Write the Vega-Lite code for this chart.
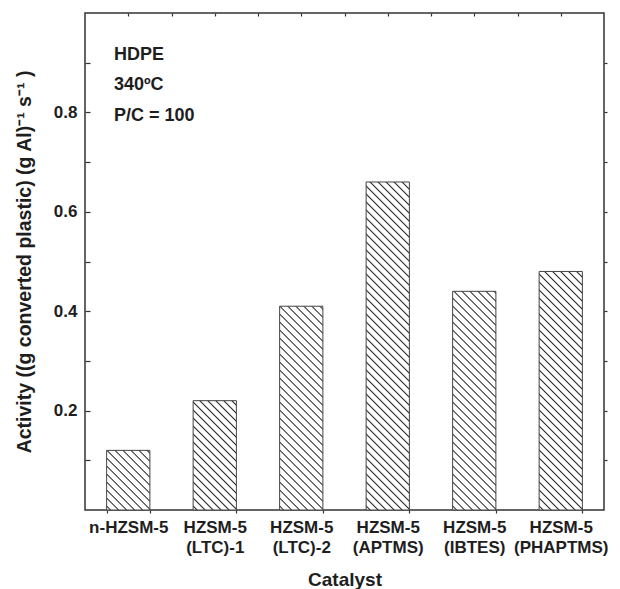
{
  "$schema": "https://vega.github.io/schema/vega-lite/v6.json",
  "width": 519,
  "height": 497,
  "autosize": "none",
  "padding": {"left": 85, "top": 13, "right": 16, "bottom": 79},
  "background": "white",
  "config": {
    "font": "Liberation Sans",
    "view": {"stroke": "#333333", "strokeWidth": 1.5},
    "axis": {
      "domain": false,
      "grid": false,
      "labelFont": "Liberation Sans",
      "labelFontWeight": "bold",
      "labelFontSize": 17,
      "labelColor": "#1e1e1e",
      "titleFont": "Liberation Sans",
      "titleFontWeight": "bold",
      "titleFontSize": 19,
      "titleColor": "#1e1e1e",
      "tickColor": "#333333",
      "tickWidth": 1.2
    }
  },
  "data": {
    "values": [
      {"catalyst": "n-HZSM-5", "activity": 0.12},
      {"catalyst": "HZSM-5 (LTC)-1", "activity": 0.22},
      {"catalyst": "HZSM-5 (LTC)-2", "activity": 0.41},
      {"catalyst": "HZSM-5 (APTMS)", "activity": 0.66},
      {"catalyst": "HZSM-5 (IBTES)", "activity": 0.44},
      {"catalyst": "HZSM-5 (PHAPTMS)", "activity": 0.48}
    ]
  },
  "layer": [
    {
      "mark": {"type": "bar", "stroke": "#444444", "strokeWidth": 1},
      "encoding": {
        "x": {
          "field": "catalyst",
          "type": "nominal",
          "sort": null,
          "scale": {"paddingInner": 0.5, "paddingOuter": 0.25},
          "axis": {
            "orient": "bottom",
            "title": "Catalyst",
            "labelAngle": 0,
            "labelExpr": "split(datum.label, ' ')",
            "labelLineHeight": 20,
            "labelPadding": 6,
            "tickBand": "extent",
            "tickSize": 3,
            "titlePadding": 15
          }
        },
        "y": {
          "field": "activity",
          "type": "quantitative",
          "scale": {"domain": [0, 1], "nice": false},
          "axis": {
            "orient": "left",
            "title": "Activity ((g converted plastic) (g Al)⁻¹  s⁻¹ )",
            "titleFontSize": 19.5,
            "values": [0.1, 0.2, 0.3, 0.4, 0.5, 0.6, 0.7, 0.8, 0.9],
            "format": ".1f",
            "labelExpr": "round(datum.value * 10) % 2 == 0 ? datum.label : ''",
            "tickSize": -5,
            "labelPadding": 13,
            "titlePadding": 19
          }
        },
        "fill": {
          "condition": [
            {
              "test": "datum.catalyst === 'n-HZSM-5'",
              "value": {
                "gradient": "linear", "x1": 0, "y1": 1, "x2": 0.8199, "y2": -0.1306,
                "stops": [
                  {"offset": 0.0252, "color": "#fff"}, {"offset": 0.0389, "color": "#222"}, {"offset": 0.0526, "color": "#fff"},
                  {"offset": 0.1029, "color": "#fff"}, {"offset": 0.1166, "color": "#222"}, {"offset": 0.1303, "color": "#fff"},
                  {"offset": 0.1807, "color": "#fff"}, {"offset": 0.1944, "color": "#222"}, {"offset": 0.2081, "color": "#fff"},
                  {"offset": 0.2584, "color": "#fff"}, {"offset": 0.2721, "color": "#222"}, {"offset": 0.2858, "color": "#fff"},
                  {"offset": 0.3362, "color": "#fff"}, {"offset": 0.3499, "color": "#222"}, {"offset": 0.3636, "color": "#fff"},
                  {"offset": 0.4139, "color": "#fff"}, {"offset": 0.4276, "color": "#222"}, {"offset": 0.4413, "color": "#fff"},
                  {"offset": 0.4917, "color": "#fff"}, {"offset": 0.5054, "color": "#222"}, {"offset": 0.5191, "color": "#fff"},
                  {"offset": 0.5694, "color": "#fff"}, {"offset": 0.5831, "color": "#222"}, {"offset": 0.5968, "color": "#fff"},
                  {"offset": 0.6472, "color": "#fff"}, {"offset": 0.6609, "color": "#222"}, {"offset": 0.6746, "color": "#fff"},
                  {"offset": 0.7249, "color": "#fff"}, {"offset": 0.7386, "color": "#222"}, {"offset": 0.7523, "color": "#fff"},
                  {"offset": 0.8027, "color": "#fff"}, {"offset": 0.8164, "color": "#222"}, {"offset": 0.8301, "color": "#fff"},
                  {"offset": 0.8804, "color": "#fff"}, {"offset": 0.8941, "color": "#222"}, {"offset": 0.9078, "color": "#fff"},
                  {"offset": 0.9582, "color": "#fff"}, {"offset": 0.9719, "color": "#222"}, {"offset": 0.9856, "color": "#fff"}
                ]
              }
            },
            {
              "test": "datum.catalyst === 'HZSM-5 (LTC)-1'",
              "value": {
                "gradient": "linear", "x1": 0, "y1": 1, "x2": 0.4773, "y2": -0.2066,
                "stops": [
                  {"offset": 0.0169, "color": "#fff"}, {"offset": 0.0262, "color": "#222"}, {"offset": 0.0355, "color": "#fff"},
                  {"offset": 0.0693, "color": "#fff"}, {"offset": 0.0786, "color": "#222"}, {"offset": 0.0879, "color": "#fff"},
                  {"offset": 0.1218, "color": "#fff"}, {"offset": 0.1311, "color": "#222"}, {"offset": 0.1404, "color": "#fff"},
                  {"offset": 0.1742, "color": "#fff"}, {"offset": 0.1835, "color": "#222"}, {"offset": 0.1928, "color": "#fff"},
                  {"offset": 0.2266, "color": "#fff"}, {"offset": 0.2359, "color": "#222"}, {"offset": 0.2452, "color": "#fff"},
                  {"offset": 0.2791, "color": "#fff"}, {"offset": 0.2884, "color": "#222"}, {"offset": 0.2977, "color": "#fff"},
                  {"offset": 0.3315, "color": "#fff"}, {"offset": 0.3408, "color": "#222"}, {"offset": 0.3501, "color": "#fff"},
                  {"offset": 0.3839, "color": "#fff"}, {"offset": 0.3932, "color": "#222"}, {"offset": 0.4025, "color": "#fff"},
                  {"offset": 0.4363, "color": "#fff"}, {"offset": 0.4456, "color": "#222"}, {"offset": 0.4549, "color": "#fff"},
                  {"offset": 0.4888, "color": "#fff"}, {"offset": 0.4981, "color": "#222"}, {"offset": 0.5074, "color": "#fff"},
                  {"offset": 0.5412, "color": "#fff"}, {"offset": 0.5505, "color": "#222"}, {"offset": 0.5598, "color": "#fff"},
                  {"offset": 0.5936, "color": "#fff"}, {"offset": 0.6029, "color": "#222"}, {"offset": 0.6122, "color": "#fff"},
                  {"offset": 0.6461, "color": "#fff"}, {"offset": 0.6554, "color": "#222"}, {"offset": 0.6647, "color": "#fff"},
                  {"offset": 0.6985, "color": "#fff"}, {"offset": 0.7078, "color": "#222"}, {"offset": 0.7171, "color": "#fff"},
                  {"offset": 0.7509, "color": "#fff"}, {"offset": 0.7602, "color": "#222"}, {"offset": 0.7695, "color": "#fff"},
                  {"offset": 0.8033, "color": "#fff"}, {"offset": 0.8126, "color": "#222"}, {"offset": 0.8219, "color": "#fff"},
                  {"offset": 0.8558, "color": "#fff"}, {"offset": 0.8651, "color": "#222"}, {"offset": 0.8744, "color": "#fff"},
                  {"offset": 0.9082, "color": "#fff"}, {"offset": 0.9175, "color": "#222"}, {"offset": 0.9268, "color": "#fff"},
                  {"offset": 0.9606, "color": "#fff"}, {"offset": 0.9699, "color": "#222"}, {"offset": 0.9792, "color": "#fff"}
                ]
              }
            },
            {
              "test": "datum.catalyst === 'HZSM-5 (LTC)-2'",
              "value": {
                "gradient": "linear", "x1": 0, "y1": 1, "x2": 0.2462, "y2": -0.16,
                "stops": [
                  {"offset": 0.0105, "color": "#fff"}, {"offset": 0.0162, "color": "#222"}, {"offset": 0.0219, "color": "#fff"},
                  {"offset": 0.0429, "color": "#fff"}, {"offset": 0.0486, "color": "#222"}, {"offset": 0.0543, "color": "#fff"},
                  {"offset": 0.0753, "color": "#fff"}, {"offset": 0.0810, "color": "#222"}, {"offset": 0.0867, "color": "#fff"},
                  {"offset": 0.1077, "color": "#fff"}, {"offset": 0.1134, "color": "#222"}, {"offset": 0.1191, "color": "#fff"},
                  {"offset": 0.1400, "color": "#fff"}, {"offset": 0.1457, "color": "#222"}, {"offset": 0.1514, "color": "#fff"},
                  {"offset": 0.1724, "color": "#fff"}, {"offset": 0.1781, "color": "#222"}, {"offset": 0.1838, "color": "#fff"},
                  {"offset": 0.2048, "color": "#fff"}, {"offset": 0.2105, "color": "#222"}, {"offset": 0.2162, "color": "#fff"},
                  {"offset": 0.2372, "color": "#fff"}, {"offset": 0.2429, "color": "#222"}, {"offset": 0.2486, "color": "#fff"},
                  {"offset": 0.2696, "color": "#fff"}, {"offset": 0.2753, "color": "#222"}, {"offset": 0.2810, "color": "#fff"},
                  {"offset": 0.3020, "color": "#fff"}, {"offset": 0.3077, "color": "#222"}, {"offset": 0.3134, "color": "#fff"},
                  {"offset": 0.3344, "color": "#fff"}, {"offset": 0.3401, "color": "#222"}, {"offset": 0.3458, "color": "#fff"},
                  {"offset": 0.3667, "color": "#fff"}, {"offset": 0.3724, "color": "#222"}, {"offset": 0.3781, "color": "#fff"},
                  {"offset": 0.3991, "color": "#fff"}, {"offset": 0.4048, "color": "#222"}, {"offset": 0.4105, "color": "#fff"},
                  {"offset": 0.4315, "color": "#fff"}, {"offset": 0.4372, "color": "#222"}, {"offset": 0.4429, "color": "#fff"},
                  {"offset": 0.4639, "color": "#fff"}, {"offset": 0.4696, "color": "#222"}, {"offset": 0.4753, "color": "#fff"},
                  {"offset": 0.4963, "color": "#fff"}, {"offset": 0.5020, "color": "#222"}, {"offset": 0.5077, "color": "#fff"},
                  {"offset": 0.5287, "color": "#fff"}, {"offset": 0.5344, "color": "#222"}, {"offset": 0.5401, "color": "#fff"},
                  {"offset": 0.5611, "color": "#fff"}, {"offset": 0.5668, "color": "#222"}, {"offset": 0.5725, "color": "#fff"},
                  {"offset": 0.5934, "color": "#fff"}, {"offset": 0.5991, "color": "#222"}, {"offset": 0.6048, "color": "#fff"},
                  {"offset": 0.6258, "color": "#fff"}, {"offset": 0.6315, "color": "#222"}, {"offset": 0.6372, "color": "#fff"},
                  {"offset": 0.6582, "color": "#fff"}, {"offset": 0.6639, "color": "#222"}, {"offset": 0.6696, "color": "#fff"},
                  {"offset": 0.6906, "color": "#fff"}, {"offset": 0.6963, "color": "#222"}, {"offset": 0.7020, "color": "#fff"},
                  {"offset": 0.7230, "color": "#fff"}, {"offset": 0.7287, "color": "#222"}, {"offset": 0.7344, "color": "#fff"},
                  {"offset": 0.7554, "color": "#fff"}, {"offset": 0.7611, "color": "#222"}, {"offset": 0.7668, "color": "#fff"},
                  {"offset": 0.7878, "color": "#fff"}, {"offset": 0.7935, "color": "#222"}, {"offset": 0.7992, "color": "#fff"},
                  {"offset": 0.8201, "color": "#fff"}, {"offset": 0.8258, "color": "#222"}, {"offset": 0.8315, "color": "#fff"},
                  {"offset": 0.8525, "color": "#fff"}, {"offset": 0.8582, "color": "#222"}, {"offset": 0.8639, "color": "#fff"},
                  {"offset": 0.8849, "color": "#fff"}, {"offset": 0.8906, "color": "#222"}, {"offset": 0.8963, "color": "#fff"},
                  {"offset": 0.9173, "color": "#fff"}, {"offset": 0.9230, "color": "#222"}, {"offset": 0.9287, "color": "#fff"},
                  {"offset": 0.9497, "color": "#fff"}, {"offset": 0.9554, "color": "#222"}, {"offset": 0.9611, "color": "#fff"},
                  {"offset": 0.9821, "color": "#fff"}, {"offset": 0.9878, "color": "#222"}, {"offset": 0.9935, "color": "#fff"}
                ]
              }
            },
            {
              "test": "datum.catalyst === 'HZSM-5 (APTMS)'",
              "value": {
                "gradient": "linear", "x1": 0, "y1": 1, "x2": 0.1467, "y2": -0.1125,
                "stops": [
                  {"offset": 0.0070, "color": "#fff"}, {"offset": 0.0108, "color": "#222"}, {"offset": 0.0146, "color": "#fff"},
                  {"offset": 0.0285, "color": "#fff"}, {"offset": 0.0323, "color": "#222"}, {"offset": 0.0361, "color": "#fff"},
                  {"offset": 0.0501, "color": "#fff"}, {"offset": 0.0539, "color": "#222"}, {"offset": 0.0577, "color": "#fff"},
                  {"offset": 0.0716, "color": "#fff"}, {"offset": 0.0754, "color": "#222"}, {"offset": 0.0792, "color": "#fff"},
                  {"offset": 0.0932, "color": "#fff"}, {"offset": 0.0970, "color": "#222"}, {"offset": 0.1008, "color": "#fff"},
                  {"offset": 0.1147, "color": "#fff"}, {"offset": 0.1185, "color": "#222"}, {"offset": 0.1223, "color": "#fff"},
                  {"offset": 0.1363, "color": "#fff"}, {"offset": 0.1401, "color": "#222"}, {"offset": 0.1439, "color": "#fff"},
                  {"offset": 0.1578, "color": "#fff"}, {"offset": 0.1616, "color": "#222"}, {"offset": 0.1654, "color": "#fff"},
                  {"offset": 0.1794, "color": "#fff"}, {"offset": 0.1832, "color": "#222"}, {"offset": 0.1870, "color": "#fff"},
                  {"offset": 0.2009, "color": "#fff"}, {"offset": 0.2047, "color": "#222"}, {"offset": 0.2085, "color": "#fff"},
                  {"offset": 0.2225, "color": "#fff"}, {"offset": 0.2263, "color": "#222"}, {"offset": 0.2301, "color": "#fff"},
                  {"offset": 0.2440, "color": "#fff"}, {"offset": 0.2478, "color": "#222"}, {"offset": 0.2516, "color": "#fff"},
                  {"offset": 0.2656, "color": "#fff"}, {"offset": 0.2694, "color": "#222"}, {"offset": 0.2732, "color": "#fff"},
                  {"offset": 0.2871, "color": "#fff"}, {"offset": 0.2909, "color": "#222"}, {"offset": 0.2947, "color": "#fff"},
                  {"offset": 0.3086, "color": "#fff"}, {"offset": 0.3124, "color": "#222"}, {"offset": 0.3162, "color": "#fff"},
                  {"offset": 0.3302, "color": "#fff"}, {"offset": 0.3340, "color": "#222"}, {"offset": 0.3378, "color": "#fff"},
                  {"offset": 0.3517, "color": "#fff"}, {"offset": 0.3555, "color": "#222"}, {"offset": 0.3593, "color": "#fff"},
                  {"offset": 0.3733, "color": "#fff"}, {"offset": 0.3771, "color": "#222"}, {"offset": 0.3809, "color": "#fff"},
                  {"offset": 0.3948, "color": "#fff"}, {"offset": 0.3986, "color": "#222"}, {"offset": 0.4024, "color": "#fff"},
                  {"offset": 0.4164, "color": "#fff"}, {"offset": 0.4202, "color": "#222"}, {"offset": 0.4240, "color": "#fff"},
                  {"offset": 0.4379, "color": "#fff"}, {"offset": 0.4417, "color": "#222"}, {"offset": 0.4455, "color": "#fff"},
                  {"offset": 0.4595, "color": "#fff"}, {"offset": 0.4633, "color": "#222"}, {"offset": 0.4671, "color": "#fff"},
                  {"offset": 0.4810, "color": "#fff"}, {"offset": 0.4848, "color": "#222"}, {"offset": 0.4886, "color": "#fff"},
                  {"offset": 0.5026, "color": "#fff"}, {"offset": 0.5064, "color": "#222"}, {"offset": 0.5102, "color": "#fff"},
                  {"offset": 0.5241, "color": "#fff"}, {"offset": 0.5279, "color": "#222"}, {"offset": 0.5317, "color": "#fff"},
                  {"offset": 0.5457, "color": "#fff"}, {"offset": 0.5495, "color": "#222"}, {"offset": 0.5533, "color": "#fff"},
                  {"offset": 0.5672, "color": "#fff"}, {"offset": 0.5710, "color": "#222"}, {"offset": 0.5748, "color": "#fff"},
                  {"offset": 0.5888, "color": "#fff"}, {"offset": 0.5926, "color": "#222"}, {"offset": 0.5964, "color": "#fff"},
                  {"offset": 0.6103, "color": "#fff"}, {"offset": 0.6141, "color": "#222"}, {"offset": 0.6179, "color": "#fff"},
                  {"offset": 0.6319, "color": "#fff"}, {"offset": 0.6357, "color": "#222"}, {"offset": 0.6395, "color": "#fff"},
                  {"offset": 0.6534, "color": "#fff"}, {"offset": 0.6572, "color": "#222"}, {"offset": 0.6610, "color": "#fff"},
                  {"offset": 0.6750, "color": "#fff"}, {"offset": 0.6788, "color": "#222"}, {"offset": 0.6826, "color": "#fff"},
                  {"offset": 0.6965, "color": "#fff"}, {"offset": 0.7003, "color": "#222"}, {"offset": 0.7041, "color": "#fff"},
                  {"offset": 0.7181, "color": "#fff"}, {"offset": 0.7219, "color": "#222"}, {"offset": 0.7257, "color": "#fff"},
                  {"offset": 0.7396, "color": "#fff"}, {"offset": 0.7434, "color": "#222"}, {"offset": 0.7472, "color": "#fff"},
                  {"offset": 0.7612, "color": "#fff"}, {"offset": 0.7650, "color": "#222"}, {"offset": 0.7688, "color": "#fff"},
                  {"offset": 0.7827, "color": "#fff"}, {"offset": 0.7865, "color": "#222"}, {"offset": 0.7903, "color": "#fff"},
                  {"offset": 0.8043, "color": "#fff"}, {"offset": 0.8081, "color": "#222"}, {"offset": 0.8119, "color": "#fff"},
                  {"offset": 0.8258, "color": "#fff"}, {"offset": 0.8296, "color": "#222"}, {"offset": 0.8334, "color": "#fff"},
                  {"offset": 0.8473, "color": "#fff"}, {"offset": 0.8511, "color": "#222"}, {"offset": 0.8549, "color": "#fff"},
                  {"offset": 0.8689, "color": "#fff"}, {"offset": 0.8727, "color": "#222"}, {"offset": 0.8765, "color": "#fff"},
                  {"offset": 0.8904, "color": "#fff"}, {"offset": 0.8942, "color": "#222"}, {"offset": 0.8980, "color": "#fff"},
                  {"offset": 0.9120, "color": "#fff"}, {"offset": 0.9158, "color": "#222"}, {"offset": 0.9196, "color": "#fff"},
                  {"offset": 0.9335, "color": "#fff"}, {"offset": 0.9373, "color": "#222"}, {"offset": 0.9411, "color": "#fff"},
                  {"offset": 0.9551, "color": "#fff"}, {"offset": 0.9589, "color": "#222"}, {"offset": 0.9627, "color": "#fff"},
                  {"offset": 0.9766, "color": "#fff"}, {"offset": 0.9804, "color": "#222"}, {"offset": 0.9842, "color": "#fff"}
                ]
              }
            },
            {
              "test": "datum.catalyst === 'HZSM-5 (IBTES)'",
              "value": {
                "gradient": "linear", "x1": 0, "y1": 1, "x2": 0.228, "y2": -0.1527,
                "stops": [
                  {"offset": 0.0099, "color": "#fff"}, {"offset": 0.0153, "color": "#222"}, {"offset": 0.0207, "color": "#fff"},
                  {"offset": 0.0404, "color": "#fff"}, {"offset": 0.0458, "color": "#222"}, {"offset": 0.0512, "color": "#fff"},
                  {"offset": 0.0710, "color": "#fff"}, {"offset": 0.0764, "color": "#222"}, {"offset": 0.0818, "color": "#fff"},
                  {"offset": 0.1015, "color": "#fff"}, {"offset": 0.1069, "color": "#222"}, {"offset": 0.1123, "color": "#fff"},
                  {"offset": 0.1320, "color": "#fff"}, {"offset": 0.1374, "color": "#222"}, {"offset": 0.1428, "color": "#fff"},
                  {"offset": 0.1626, "color": "#fff"}, {"offset": 0.1680, "color": "#222"}, {"offset": 0.1734, "color": "#fff"},
                  {"offset": 0.1931, "color": "#fff"}, {"offset": 0.1985, "color": "#222"}, {"offset": 0.2039, "color": "#fff"},
                  {"offset": 0.2237, "color": "#fff"}, {"offset": 0.2291, "color": "#222"}, {"offset": 0.2345, "color": "#fff"},
                  {"offset": 0.2542, "color": "#fff"}, {"offset": 0.2596, "color": "#222"}, {"offset": 0.2650, "color": "#fff"},
                  {"offset": 0.2848, "color": "#fff"}, {"offset": 0.2902, "color": "#222"}, {"offset": 0.2956, "color": "#fff"},
                  {"offset": 0.3153, "color": "#fff"}, {"offset": 0.3207, "color": "#222"}, {"offset": 0.3261, "color": "#fff"},
                  {"offset": 0.3458, "color": "#fff"}, {"offset": 0.3512, "color": "#222"}, {"offset": 0.3566, "color": "#fff"},
                  {"offset": 0.3764, "color": "#fff"}, {"offset": 0.3818, "color": "#222"}, {"offset": 0.3872, "color": "#fff"},
                  {"offset": 0.4069, "color": "#fff"}, {"offset": 0.4123, "color": "#222"}, {"offset": 0.4177, "color": "#fff"},
                  {"offset": 0.4375, "color": "#fff"}, {"offset": 0.4429, "color": "#222"}, {"offset": 0.4483, "color": "#fff"},
                  {"offset": 0.4680, "color": "#fff"}, {"offset": 0.4734, "color": "#222"}, {"offset": 0.4788, "color": "#fff"},
                  {"offset": 0.4986, "color": "#fff"}, {"offset": 0.5040, "color": "#222"}, {"offset": 0.5094, "color": "#fff"},
                  {"offset": 0.5291, "color": "#fff"}, {"offset": 0.5345, "color": "#222"}, {"offset": 0.5399, "color": "#fff"},
                  {"offset": 0.5597, "color": "#fff"}, {"offset": 0.5651, "color": "#222"}, {"offset": 0.5705, "color": "#fff"},
                  {"offset": 0.5902, "color": "#fff"}, {"offset": 0.5956, "color": "#222"}, {"offset": 0.6010, "color": "#fff"},
                  {"offset": 0.6207, "color": "#fff"}, {"offset": 0.6261, "color": "#222"}, {"offset": 0.6315, "color": "#fff"},
                  {"offset": 0.6513, "color": "#fff"}, {"offset": 0.6567, "color": "#222"}, {"offset": 0.6621, "color": "#fff"},
                  {"offset": 0.6818, "color": "#fff"}, {"offset": 0.6872, "color": "#222"}, {"offset": 0.6926, "color": "#fff"},
                  {"offset": 0.7124, "color": "#fff"}, {"offset": 0.7178, "color": "#222"}, {"offset": 0.7232, "color": "#fff"},
                  {"offset": 0.7429, "color": "#fff"}, {"offset": 0.7483, "color": "#222"}, {"offset": 0.7537, "color": "#fff"},
                  {"offset": 0.7735, "color": "#fff"}, {"offset": 0.7789, "color": "#222"}, {"offset": 0.7843, "color": "#fff"},
                  {"offset": 0.8040, "color": "#fff"}, {"offset": 0.8094, "color": "#222"}, {"offset": 0.8148, "color": "#fff"},
                  {"offset": 0.8345, "color": "#fff"}, {"offset": 0.8399, "color": "#222"}, {"offset": 0.8453, "color": "#fff"},
                  {"offset": 0.8651, "color": "#fff"}, {"offset": 0.8705, "color": "#222"}, {"offset": 0.8759, "color": "#fff"},
                  {"offset": 0.8956, "color": "#fff"}, {"offset": 0.9010, "color": "#222"}, {"offset": 0.9064, "color": "#fff"},
                  {"offset": 0.9262, "color": "#fff"}, {"offset": 0.9316, "color": "#222"}, {"offset": 0.9370, "color": "#fff"},
                  {"offset": 0.9567, "color": "#fff"}, {"offset": 0.9621, "color": "#222"}, {"offset": 0.9675, "color": "#fff"},
                  {"offset": 0.9873, "color": "#fff"}, {"offset": 0.9927, "color": "#222"}, {"offset": 0.9981, "color": "#fff"}
                ]
              }
            },
            {
              "test": "datum.catalyst === 'HZSM-5 (PHAPTMS)'",
              "value": {
                "gradient": "linear", "x1": 0, "y1": 1, "x2": 0.2074, "y2": -0.1437,
                "stops": [
                  {"offset": 0.0092, "color": "#fff"}, {"offset": 0.0142, "color": "#222"}, {"offset": 0.0192, "color": "#fff"},
                  {"offset": 0.0376, "color": "#fff"}, {"offset": 0.0426, "color": "#222"}, {"offset": 0.0476, "color": "#fff"},
                  {"offset": 0.0660, "color": "#fff"}, {"offset": 0.0710, "color": "#222"}, {"offset": 0.0760, "color": "#fff"},
                  {"offset": 0.0944, "color": "#fff"}, {"offset": 0.0994, "color": "#222"}, {"offset": 0.1044, "color": "#fff"},
                  {"offset": 0.1227, "color": "#fff"}, {"offset": 0.1277, "color": "#222"}, {"offset": 0.1327, "color": "#fff"},
                  {"offset": 0.1511, "color": "#fff"}, {"offset": 0.1561, "color": "#222"}, {"offset": 0.1611, "color": "#fff"},
                  {"offset": 0.1795, "color": "#fff"}, {"offset": 0.1845, "color": "#222"}, {"offset": 0.1895, "color": "#fff"},
                  {"offset": 0.2079, "color": "#fff"}, {"offset": 0.2129, "color": "#222"}, {"offset": 0.2179, "color": "#fff"},
                  {"offset": 0.2363, "color": "#fff"}, {"offset": 0.2413, "color": "#222"}, {"offset": 0.2463, "color": "#fff"},
                  {"offset": 0.2647, "color": "#fff"}, {"offset": 0.2697, "color": "#222"}, {"offset": 0.2747, "color": "#fff"},
                  {"offset": 0.2931, "color": "#fff"}, {"offset": 0.2981, "color": "#222"}, {"offset": 0.3031, "color": "#fff"},
                  {"offset": 0.3215, "color": "#fff"}, {"offset": 0.3265, "color": "#222"}, {"offset": 0.3315, "color": "#fff"},
                  {"offset": 0.3499, "color": "#fff"}, {"offset": 0.3549, "color": "#222"}, {"offset": 0.3599, "color": "#fff"},
                  {"offset": 0.3782, "color": "#fff"}, {"offset": 0.3832, "color": "#222"}, {"offset": 0.3882, "color": "#fff"},
                  {"offset": 0.4066, "color": "#fff"}, {"offset": 0.4116, "color": "#222"}, {"offset": 0.4166, "color": "#fff"},
                  {"offset": 0.4350, "color": "#fff"}, {"offset": 0.4400, "color": "#222"}, {"offset": 0.4450, "color": "#fff"},
                  {"offset": 0.4634, "color": "#fff"}, {"offset": 0.4684, "color": "#222"}, {"offset": 0.4734, "color": "#fff"},
                  {"offset": 0.4918, "color": "#fff"}, {"offset": 0.4968, "color": "#222"}, {"offset": 0.5018, "color": "#fff"},
                  {"offset": 0.5202, "color": "#fff"}, {"offset": 0.5252, "color": "#222"}, {"offset": 0.5302, "color": "#fff"},
                  {"offset": 0.5486, "color": "#fff"}, {"offset": 0.5536, "color": "#222"}, {"offset": 0.5586, "color": "#fff"},
                  {"offset": 0.5770, "color": "#fff"}, {"offset": 0.5820, "color": "#222"}, {"offset": 0.5870, "color": "#fff"},
                  {"offset": 0.6053, "color": "#fff"}, {"offset": 0.6103, "color": "#222"}, {"offset": 0.6153, "color": "#fff"},
                  {"offset": 0.6337, "color": "#fff"}, {"offset": 0.6387, "color": "#222"}, {"offset": 0.6437, "color": "#fff"},
                  {"offset": 0.6621, "color": "#fff"}, {"offset": 0.6671, "color": "#222"}, {"offset": 0.6721, "color": "#fff"},
                  {"offset": 0.6905, "color": "#fff"}, {"offset": 0.6955, "color": "#222"}, {"offset": 0.7005, "color": "#fff"},
                  {"offset": 0.7189, "color": "#fff"}, {"offset": 0.7239, "color": "#222"}, {"offset": 0.7289, "color": "#fff"},
                  {"offset": 0.7473, "color": "#fff"}, {"offset": 0.7523, "color": "#222"}, {"offset": 0.7573, "color": "#fff"},
                  {"offset": 0.7757, "color": "#fff"}, {"offset": 0.7807, "color": "#222"}, {"offset": 0.7857, "color": "#fff"},
                  {"offset": 0.8041, "color": "#fff"}, {"offset": 0.8091, "color": "#222"}, {"offset": 0.8141, "color": "#fff"},
                  {"offset": 0.8324, "color": "#fff"}, {"offset": 0.8374, "color": "#222"}, {"offset": 0.8424, "color": "#fff"},
                  {"offset": 0.8608, "color": "#fff"}, {"offset": 0.8658, "color": "#222"}, {"offset": 0.8708, "color": "#fff"},
                  {"offset": 0.8892, "color": "#fff"}, {"offset": 0.8942, "color": "#222"}, {"offset": 0.8992, "color": "#fff"},
                  {"offset": 0.9176, "color": "#fff"}, {"offset": 0.9226, "color": "#222"}, {"offset": 0.9276, "color": "#fff"},
                  {"offset": 0.9460, "color": "#fff"}, {"offset": 0.9510, "color": "#222"}, {"offset": 0.9560, "color": "#fff"},
                  {"offset": 0.9744, "color": "#fff"}, {"offset": 0.9794, "color": "#222"}, {"offset": 0.9844, "color": "#fff"}
                ]
              }
            }
          ],
          "value": "white"
        }
      }
    },
    {
      "data": {"values": [{"note": ["HDPE", "340ºC", "P/C = 100"]}]},
      "mark": {
        "type": "text",
        "align": "left",
        "baseline": "alphabetic",
        "font": "Liberation Sans",
        "fontWeight": "bold",
        "fontSize": 18,
        "lineHeight": 30.5,
        "color": "#1e1e1e"
      },
      "encoding": {
        "text": {"field": "note"},
        "x": {
          "datum": 0.67,
          "type": "quantitative",
          "scale": {"domain": [0, 12], "nice": false},
          "axis": {
            "orient": "top",
            "title": null,
            "values": [1, 2, 3, 4, 5, 6, 7, 8, 9, 10, 11],
            "labels": false,
            "tickSize": -3
          }
        },
        "y": {
          "datum": 0.906,
          "type": "quantitative",
          "axis": {
            "orient": "right",
            "title": null,
            "values": [0.1, 0.2, 0.3, 0.4, 0.5, 0.6, 0.7, 0.8, 0.9],
            "labels": false,
            "tickSize": 3
          }
        }
      }
    }
  ],
  "resolve": {
    "scale": {"x": "independent"},
    "axis": {"x": "independent", "y": "independent"}
  }
}
